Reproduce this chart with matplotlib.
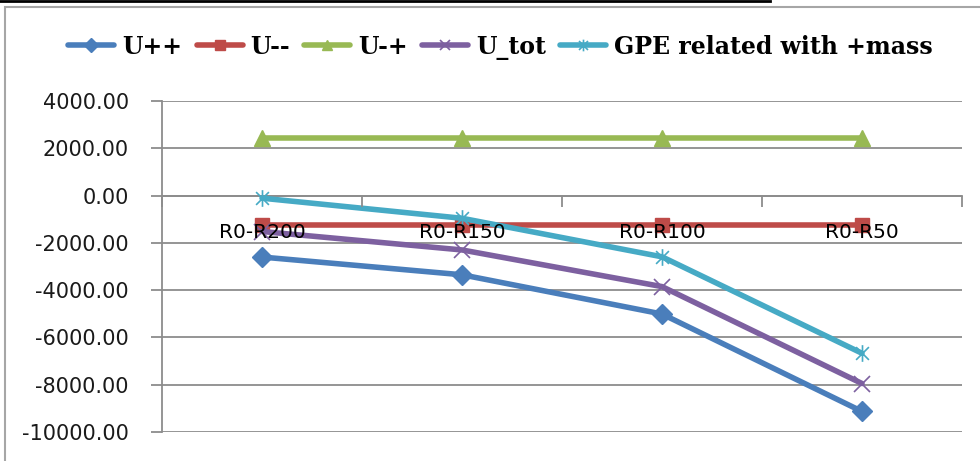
"""Energy terms across the R0 radius ranges, Excel-style line chart"""

import matplotlib
matplotlib.use('Agg')
import matplotlib.pyplot as plt
from matplotlib.path import Path
from matplotlib.lines import Line2D
from matplotlib.patches import Rectangle

# Radius ranges and energy terms
categories = ['R0-R200', 'R0-R150', 'R0-R100', 'R0-R50']
u_pp = [-2600, -3350, -5010, -9130]
u_mm = [-1250, -1250, -1250, -1250]
u_pm = [2420, 2420, 2420, 2420]
u_tot = [-1520, -2300, -3850, -7950]
gpe_mass = [-110, -960, -2590, -6670]

series_names = ['U++', 'U--', 'U-+', 'U_tot', 'GPE related with +mass']

# Excel style star: an x with a vertical stroke
star = Path([(-1, -1), (1, 1), (-1, 1), (1, -1), (0, -1.3), (0, 1.3)],
            [Path.MOVETO, Path.LINETO, Path.MOVETO, Path.LINETO, Path.MOVETO, Path.LINETO])

styles = [
    dict(color='#4A7EBB', marker='D', ms=10),
    dict(color='#BE4B48', marker='s', ms=10),
    dict(color='#98B954', marker='^', ms=11),
    dict(color='#7D60A0', marker='x', ms=11, mew=1.2),
    dict(color='#46AAC5', marker=star, ms=12, mew=1.2),
]


def main():
    fig = plt.figure(figsize=(9.8, 4.61), dpi=100)

    # spreadsheet frame behind the chart
    fig.add_artist(Line2D([0, 770 / 980], [1 - 1 / 461, 1 - 1 / 461], color='black', lw=2,
                          transform=fig.transFigure))
    fig.add_artist(Rectangle((5 / 980, -0.1), 1.2, 1 - 7 / 461 + 0.1, transform=fig.transFigure,
                             fill=False, edgecolor='#A6A6A6', lw=1.5))

    ax = fig.add_axes([162 / 980, 29 / 461, 800 / 980, 331 / 461])
    x = list(range(len(categories)))
    data = [u_pp, u_mm, u_pm, u_tot, gpe_mass]
    for name, vals, st in zip(series_names, data, styles):
        ax.plot(x, vals, lw=4, label=name, color=st['color'], marker=st['marker'],
                markersize=st['ms'], markeredgewidth=st.get('mew', 1), solid_capstyle='round',
                clip_on=False, zorder=2)

    ax.set_ylim(-10000, 4000)
    ax.set_xlim(-0.5, 3.5)
    ax.set_yticks(range(-10000, 4001, 2000))
    ax.set_yticklabels(['%.2f' % v for v in range(-10000, 4001, 2000)],
                       fontsize=15, family='DejaVu Sans', color='#1A1A1A')
    ax.yaxis.grid(True, color='#8C8C8C', lw=1.3)
    ax.set_axisbelow(True)
    # category labels sit on top of the lines
    ax.xaxis.set_zorder(3)
    ax.tick_params(axis='y', length=8, width=1.3, color='#8C8C8C', pad=16)

    # category axis crosses at zero, labels hang just below it
    ax.spines['bottom'].set_position(('data', 0))
    ax.spines['bottom'].set_color('#8C8C8C')
    ax.spines['bottom'].set_linewidth(1.3)
    ax.spines['bottom'].set_zorder(1)
    ax.spines['left'].set_color('#8C8C8C')
    ax.spines['left'].set_linewidth(1.3)
    ax.spines['top'].set_visible(False)
    ax.spines['right'].set_visible(False)
    ax.set_xticks([-0.5, 0.5, 1.5, 2.5, 3.5])
    ax.set_xticklabels([])
    ax.tick_params(axis='x', which='major', direction='out', length=8, width=1.3, color='#8C8C8C')
    ax.set_xticks(x, minor=True)
    ax.set_xticklabels(categories, minor=True, fontsize=14.5, family='DejaVu Sans',
                       color='black')
    ax.tick_params(axis='x', which='minor', length=0, pad=20)

    fig.legend(loc='center', bbox_to_anchor=(0.511, 1 - 47 / 461), ncol=5, frameon=False,
               prop=dict(family='DejaVu Serif', weight='bold', size=17),
               handlelength=1.95, handletextpad=0.34, columnspacing=0.6, markerscale=0.7)

    fig.savefig('out.png', dpi=100)


if __name__ == '__main__':
    main()
